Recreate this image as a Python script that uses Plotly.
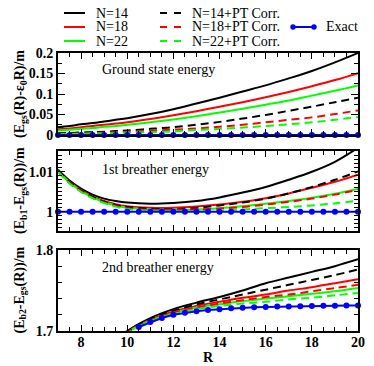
import plotly.graph_objects as go

# ---------------- data ----------------
R_line = [7, 7.5, 8, 8.5, 9, 9.5, 10, 11, 12, 13, 14, 15, 16, 17, 18, 19, 20]
R_exact = [7 + 0.5 * i for i in range(27)]
R_exact3 = [10.5 + 0.5 * i for i in range(20)]

# Panel 1: ground state energy (E_gs(R) - eps0 R)/m
gs_n14 = [0.019, 0.022, 0.026, 0.029, 0.033, 0.037, 0.041, 0.051, 0.063, 0.077, 0.091, 0.106, 0.121, 0.138, 0.156, 0.177, 0.200]
gs_n18 = [0.014, 0.016, 0.019, 0.022, 0.025, 0.028, 0.031, 0.039, 0.048, 0.058, 0.069, 0.080, 0.092, 0.105, 0.119, 0.134, 0.151]
gs_n22 = [0.011, 0.013, 0.015, 0.017, 0.020, 0.022, 0.025, 0.031, 0.038, 0.046, 0.055, 0.064, 0.074, 0.084, 0.096, 0.108, 0.121]
gs_n14pt = [0.004, 0.005, 0.006, 0.007, 0.008, 0.0095, 0.011, 0.015, 0.019, 0.025, 0.032, 0.040, 0.049, 0.059, 0.069, 0.080, 0.091]
gs_n18pt = [0.003, 0.0035, 0.004, 0.005, 0.006, 0.007, 0.008, 0.010, 0.013, 0.016, 0.020, 0.025, 0.031, 0.037, 0.043, 0.051, 0.060]
gs_n22pt = [0.002, 0.0025, 0.003, 0.0035, 0.004, 0.005, 0.006, 0.007, 0.009, 0.012, 0.015, 0.018, 0.022, 0.026, 0.031, 0.037, 0.044]
gs_exact = [0.0] * 27

# Panel 2: 1st breather (E_b1 - E_gs(R))/m
b1_n14 = [1.0105, 1.0078, 1.0058, 1.0043, 1.0033, 1.0027, 1.0023, 1.0020, 1.0022, 1.0027, 1.0036, 1.0048, 1.0062, 1.0080, 1.0100, 1.0125, 1.0160]
b1_n18 = [1.0103, 1.0075, 1.0054, 1.0038, 1.0027, 1.0019, 1.0014, 1.0010, 1.0010, 1.0013, 1.0018, 1.0025, 1.0034, 1.0046, 1.0060, 1.0075, 1.0093]
b1_n22 = [1.0102, 1.0073, 1.0052, 1.0036, 1.0024, 1.0016, 1.0010, 1.0006, 1.0005, 1.0006, 1.0009, 1.0014, 1.0020, 1.0027, 1.0035, 1.0045, 1.0057]
b1_n14pt = [1.0102, 1.0074, 1.0053, 1.0037, 1.0025, 1.0017, 1.0012, 1.0008, 1.0007, 1.0010, 1.0016, 1.0023, 1.0033, 1.0046, 1.0062, 1.0080, 1.0101]
b1_n18pt = [1.0101, 1.0072, 1.0051, 1.0035, 1.0023, 1.0015, 1.0009, 1.0005, 1.0005, 1.0006, 1.0008, 1.0012, 1.0018, 1.0025, 1.0033, 1.0043, 1.0055]
b1_n22pt = [1.0100, 1.0071, 1.0050, 1.0034, 1.0022, 1.0013, 1.0007, 1.0003, 1.0002, 1.0002, 1.0003, 1.0006, 1.0009, 1.0012, 1.0016, 1.0021, 1.0028]
b1_exact = [1.0] * 27

# Panel 3: 2nd breather (E_b2 - E_gs(R))/m
b2_n14 = [1.600, 1.620, 1.638, 1.655, 1.672, 1.687, 1.700, 1.716, 1.727, 1.735, 1.742, 1.750, 1.759, 1.766, 1.773, 1.780, 1.7885]
b2_n18 = [1.599, 1.619, 1.637, 1.654, 1.671, 1.686, 1.699, 1.714, 1.724, 1.731, 1.736, 1.741, 1.745, 1.750, 1.754, 1.759, 1.764]
b2_n22 = [1.598, 1.618, 1.636, 1.653, 1.670, 1.685, 1.698, 1.713, 1.722, 1.729, 1.733, 1.737, 1.740, 1.743, 1.746, 1.749, 1.753]
b2_n14pt = [1.599, 1.619, 1.637, 1.654, 1.671, 1.686, 1.699, 1.715, 1.725, 1.733, 1.739, 1.745, 1.751, 1.757, 1.763, 1.769, 1.776]
b2_n18pt = [1.598, 1.618, 1.636, 1.653, 1.670, 1.685, 1.698, 1.713, 1.723, 1.729, 1.734, 1.738, 1.742, 1.745, 1.749, 1.753, 1.757]
b2_n22pt = [1.597, 1.617, 1.635, 1.652, 1.669, 1.684, 1.697, 1.712, 1.721, 1.727, 1.731, 1.734, 1.736, 1.739, 1.741, 1.744, 1.747]
b2_exact = [1.705, 1.711, 1.716, 1.720, 1.7225, 1.7245, 1.726, 1.727, 1.728, 1.7288, 1.7293, 1.7297,
            1.7301, 1.7304, 1.7307, 1.731, 1.7312, 1.7313, 1.7314, 1.7315]

labels = ["N=14", "N=18", "N=22", "N=14+PT Corr.", "N=18+PT Corr.", "N=22+PT Corr."]
exact_label = "Exact"
panel_titles = ["Ground state energy", "1st breather energy", "2nd breather energy"]
y_titles = ["(E<sub>gs</sub>(R)-ε<sub>0</sub>R)/m",
            "(E<sub>b1</sub>-E<sub>gs</sub>(R))/m",
            "(E<sub>b2</sub>-E<sub>gs</sub>(R))/m"]
x_title = "R"

colors = ["#000000", "#ff0000", "#00ff00", "#000000", "#ff0000", "#00ff00"]
dashes = ["solid", "solid", "solid", "8px,5px", "8px,5px", "8px,5px"]
BLUE = "#0000ff"

panels = [
    ("y", [gs_n14, gs_n18, gs_n22, gs_n14pt, gs_n18pt, gs_n22pt], R_exact, gs_exact),
    ("y2", [b1_n14, b1_n18, b1_n22, b1_n14pt, b1_n18pt, b1_n22pt], R_exact, b1_exact),
    ("y3", [b2_n14, b2_n18, b2_n22, b2_n14pt, b2_n18pt, b2_n22pt], R_exact3, b2_exact),
]

fig = go.Figure()
SERIF = "Liberation Serif"

for pi, (yax, series, rx, ex) in enumerate(panels):
    xax = "x" if pi == 0 else "x%d" % (pi + 1)
    for si, ys in enumerate(series):
        fig.add_trace(go.Scatter(
            x=R_line, y=ys, mode="lines", xaxis=xax, yaxis=yax,
            name=labels[si], showlegend=False,
            line=dict(color=colors[si], width=2, dash=dashes[si], shape="spline"),
        ))
    fig.add_trace(go.Scatter(
        x=rx, y=ex, mode="lines+markers", xaxis=xax, yaxis=yax,
        name=exact_label, showlegend=False,
        line=dict(color=BLUE, width=2), marker=dict(color=BLUE, size=6),
        cliponaxis=False,
    ))

# ---------------- layout ----------------
PL, PR, PT, PB = 58, 358, 53, 331
W = float(PR - PL)
H = float(PB - PT)
def px(x):
    return (x - PL) / W
def py(y):
    return (PB - y) / H
def dom(top, bot):
    return [py(bot), py(top)]

tickfont = dict(family=SERIF, size=14, color="black", weight="bold")
common_x = dict(range=[7, 20], ticks="inside", ticklen=6, tickwidth=1.2, tickcolor="black",
                dtick=2, tick0=0, showline=True, linecolor="black", linewidth=2,
                mirror="allticks", showgrid=False, zeroline=False,
                minor=dict(dtick=0.5, ticks="inside", ticklen=4, tickcolor="black", tickwidth=1.2, showgrid=False),
                tickfont=tickfont)
common_y = dict(ticks="inside", ticklen=7, tickwidth=1.2, tickcolor="black",
                showline=True, linecolor="black", linewidth=2, mirror="allticks",
                showgrid=False, zeroline=False, tickfont=tickfont)

fig.update_layout(
    width=374, height=366,
    margin=dict(l=PL, r=374 - PR, t=PT, b=366 - PB, autoexpand=False),
    paper_bgcolor="white", plot_bgcolor="white",
    font=dict(family=SERIF, color="black"),
    showlegend=False,
    xaxis=dict(common_x, domain=[0, 1], anchor="y", showticklabels=False),
    xaxis2=dict(common_x, domain=[0, 1], anchor="y2", showticklabels=False),
    xaxis3=dict(common_x, domain=[0, 1], anchor="y3", ticklabelstandoff=-3),
    yaxis=dict(common_y, domain=dom(53, 135), anchor="x", range=[0, 0.2], dtick=0.05, tick0=0,
               minor=dict(dtick=0.025, ticks="inside", ticklen=4, tickcolor="black", showgrid=False)),
    yaxis2=dict(common_y, domain=dom(151, 231), anchor="x2", range=[0.9952, 1.0152], dtick=0.01, tick0=1,
                minor=dict(dtick=0.001, ticks="inside", ticklen=4, tickcolor="black", showgrid=False)),
    yaxis3=dict(common_y, domain=dom(250, 331), anchor="x3", range=[1.7, 1.8], dtick=0.1, tick0=1.7,
                minor=dict(dtick=0.02, ticks="inside", ticklen=4, tickcolor="black", showgrid=False)),
)

ann_font = dict(family=SERIF, size=14, color="black")
title_font = dict(family=SERIF, size=14, color="black", weight="bold")

# panel labels
for txt, yref, yy in zip(panel_titles, ["y domain", "y2 domain", "y3 domain"], [0.80, 0.775, 0.79]):
    fig.add_annotation(text=txt, xref="paper", yref=yref, x=px(100), y=yy,
                       xanchor="left", yanchor="middle", showarrow=False, font=ann_font)

# y axis titles
for txt, (top, bot) in zip(y_titles, [(53, 135), (151, 231), (250, 331)]):
    fig.add_annotation(text=txt, xref="paper", yref="paper", x=px(20),
                       y=py((top + bot) / 2), textangle=-90,
                       xanchor="center", yanchor="middle", showarrow=False, font=title_font)

fig.add_annotation(text=x_title, xref="paper", yref="paper", x=px(208), y=py(357),
                   xanchor="center", yanchor="middle", showarrow=False, font=title_font)

# ---------------- legend (drawn manually) ----------------
rows = [13, 27, 41]
for i in range(3):
    # solid
    fig.add_shape(type="line", xref="paper", yref="paper", x0=px(64), x1=px(85),
                  y0=py(rows[i]), y1=py(rows[i]), line=dict(color=colors[i], width=2))
    fig.add_annotation(text=labels[i], xref="paper", yref="paper", x=px(94), y=py(rows[i]),
                       xanchor="left", yanchor="middle", showarrow=False, font=ann_font)
    # dashed
    fig.add_shape(type="line", xref="paper", yref="paper", x0=px(160), x1=px(181),
                  y0=py(rows[i]), y1=py(rows[i]), line=dict(color=colors[i + 3], width=2, dash="7px,7px"))
    fig.add_annotation(text=labels[i + 3], xref="paper", yref="paper", x=px(190), y=py(rows[i]),
                       xanchor="left", yanchor="middle", showarrow=False, font=ann_font)

# exact legend
fig.add_shape(type="line", xref="paper", yref="paper", x0=px(293), x1=px(314),
              y0=py(rows[1]), y1=py(rows[1]), line=dict(color=BLUE, width=2))
for cx in (293, 314):
    fig.add_shape(type="circle", xref="paper", yref="paper", x0=px(cx - 2.7), x1=px(cx + 2.7),
                  y0=py(rows[1] + 2.7), y1=py(rows[1] - 2.7), fillcolor=BLUE, line=dict(color=BLUE, width=0))
fig.add_annotation(text=exact_label, xref="paper", yref="paper", x=px(324), y=py(rows[1]),
                   xanchor="left", yanchor="middle", showarrow=False, font=ann_font)

fig.write_html("out.html", config={"displayModeBar": False},
               post_script="document.body.style.margin='0';document.body.style.overflow='hidden';")
